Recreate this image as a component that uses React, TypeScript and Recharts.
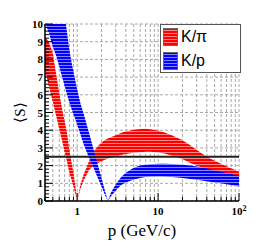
import { Area, CartesianGrid, ComposedChart, ReferenceLine, XAxis, YAxis } from "recharts";

// momentum grid (GeV/c)
const pValues = [
  0.4, 0.45, 0.5, 0.55, 0.6, 0.65, 0.7, 0.75, 0.8, 0.85, 0.9, 0.95, 1, 1.1, 1.2, 1.4, 1.6, 1.8, 2, 2.2,
  2.4, 2.6, 3, 3.5, 4, 5, 6, 7, 8, 10, 12, 15, 20, 25, 30, 40, 50, 60, 70, 80, 100,
];

// K/pi separation band
const redHigh = [
  9.3, 8.95, 8.35, 7.15, 6.1, 5.2, 4.5, 3.8, 2.9, 2.2, 1.55, 0.85, 0, 0.95, 1.5, 2.25, 2.8, 3.1, 3.3, 3.45,
  3.53, 3.6, 3.72, 3.85, 3.93, 4.03, 4.07, 4.08, 4.06, 3.97, 3.87, 3.7, 3.43, 3.15, 2.88, 2.5, 2.27, 2.1,
  1.97, 1.85, 1.65,
];
const redLow = [
  7.4, 6.4, 5.6, 4.8, 4.05, 3.4, 2.75, 2.2, 1.6, 1.2, 0.8, 0.4, 0, 0.7, 1.15, 1.75, 2.0, 2.15, 2.25, 2.33,
  2.4, 2.45, 2.52, 2.6, 2.65, 2.72, 2.76, 2.78, 2.78, 2.74, 2.68, 2.56, 2.37, 2.15, 2.0, 1.76, 1.62, 1.53,
  1.46, 1.4, 1.3,
];

// K/p separation band
const blueHigh = [
  20, 18, 16.3, 14.7, 13.2, 11.8, 10.5, 9.5, 8.55, 7.85, 7.3, 6.8, 6.3, 5.5, 4.95, 3.85, 2.9, 2.05, 1.3, 0.6,
  0, 0.45, 0.95, 1.35, 1.6, 1.88, 2.0, 2.05, 2.08, 2.1, 2.1, 2.09, 2.05, 2.0, 1.95, 1.85, 1.73, 1.65, 1.58,
  1.52, 1.42,
];
const blueLow = [
  10.1, 9.45, 8.7, 8.2, 7.6, 7.0, 6.5, 6.0, 5.57, 5.2, 4.9, 4.6, 4.3, 3.75, 3.2, 2.45, 1.85, 1.3, 0.8, 0.35,
  0, 0.25, 0.6, 0.9, 1.05, 1.22, 1.3, 1.35, 1.37, 1.38, 1.37, 1.35, 1.3, 1.25, 1.2, 1.12, 1.05, 1.0, 0.95,
  0.9, 0.82,
];

const threshold = 2.5;

const xTicks = [
  0.4, 0.5, 0.6, 0.7, 0.8, 0.9, 1, 2, 3, 4, 5, 6, 7, 8, 9, 10, 20, 30, 40, 50, 60, 70, 80, 90, 100,
];
const xMajor = [1, 10, 100];
const yMajor = [0, 1, 2, 3, 4, 5, 6, 7, 8, 9, 10];
const yTicks: number[] = [];
for (let i = 0; i <= 50; i++) yTicks.push(Math.round(i * 2) / 10);

const data = pValues.map((p, i) => ({
  p,
  red: [redLow[i], redHigh[i]],
  blue: [blueLow[i], blueHigh[i]],
}));

const SERIF = "'Liberation Serif', 'Times New Roman', serif";
const SANS = "'Liberation Sans', Arial, sans-serif";

function Hatch({ id, color, light }: { id: string; color: string; light: string }) {
  return (
    <pattern id={id} width="6" height="3" patternUnits="userSpaceOnUse">
      <rect width="6" height="3" fill={color} />
      <rect y="2" width="6" height="1" fill={light} />
    </pattern>
  );
}

function BottomTick({ x, y, payload }: any) {
  const v = payload.value;
  const major = xMajor.includes(v);
  return (
    <g>
      <line x1={x} x2={x} y1={y} y2={y - (major ? 8 : 4)} stroke="#000" />
      {major && (
        <text x={x} y={y + 14} textAnchor="middle" fontFamily={SERIF} fontWeight="bold" fontSize={11} fill="#000">
          {v === 100 ? (
            <>
              10
              <tspan fontSize={8} dy={-4}>
                2
              </tspan>
            </>
          ) : (
            v
          )}
        </text>
      )}
    </g>
  );
}

function TopTick({ x, y, payload }: any) {
  const major = xMajor.includes(payload.value);
  return <line x1={x} x2={x} y1={y} y2={y + (major ? 8 : 4)} stroke="#000" />;
}

function LeftTick({ x, y, payload }: any) {
  const v = payload.value;
  const major = yMajor.includes(v);
  return (
    <g>
      <line x1={x} x2={x + (major ? 8 : 4)} y1={y} y2={y} stroke="#000" />
      {major && (
        <text x={x - 2} y={y + 4} textAnchor="end" fontFamily={SERIF} fontWeight="bold" fontSize={11} fill="#000">
          {v}
        </text>
      )}
    </g>
  );
}

function RightTick({ x, y, payload }: any) {
  const major = yMajor.includes(payload.value);
  return <line x1={x} x2={x - (major ? 8 : 4)} y1={y} y2={y} stroke="#000" />;
}

function YLabel({ viewBox }: any) {
  const cx = 25;
  const cy = viewBox.y + viewBox.height / 2;
  return (
    <text
      x={cx}
      y={cy}
      transform={`rotate(-90 ${cx} ${cy})`}
      textAnchor="middle"
      fontFamily={SERIF}
      fontSize={15}
      fill="#000"
    >
      ⟨S⟩
    </text>
  );
}

function LegendBox() {
  const items = [
    { label: "K/π", id: "lgRed", color: "#ff0000", light: "#ff8585" },
    { label: "K/p", id: "lgBlue", color: "#0000ff", light: "#8585ff" },
  ];
  return (
    <div
      style={{
        position: "absolute",
        left: 160,
        top: 24,
        width: 79,
        height: 47,
        background: "#fff",
        border: "1px solid #555",
      }}
    >
      {items.map((it, i) => (
        <div key={it.id} style={{ position: "absolute", left: 2, top: 3 + i * 24, height: 18, display: "flex" }}>
          <svg width={15} height={18}>
            <defs>
              <Hatch id={it.id} color={it.color} light={it.light} />
            </defs>
            <rect x={0.5} y={0.5} width={14} height={17} fill={`url(#${it.id})`} stroke="#666" />
          </svg>
          <span style={{ fontFamily: SANS, fontSize: 16, lineHeight: "18px", marginLeft: 3, color: "#000" }}>
            {it.label}
          </span>
        </div>
      ))}
    </div>
  );
}

export default function App() {
  return (
    <div style={{ position: "absolute", left: 0, top: 0, width: 266, height: 242, background: "#fff" }}>
      <ComposedChart width={266} height={242} data={data} margin={{ top: 24, right: 27, left: 0, bottom: 0 }}>
        <defs>
          <Hatch id="hatchRed" color="#ff0000" light="#ff8585" />
          <Hatch id="hatchBlue" color="#0000ff" light="#8585ff" />
        </defs>
        <CartesianGrid
          stroke="#a8a8a8"
          strokeDasharray="3 2"
          horizontalValues={yMajor}
          verticalValues={xTicks}
        />
        <XAxis
          dataKey="p"
          type="number"
          scale="log"
          domain={[0.4, 100]}
          allowDataOverflow
          ticks={xTicks}
          interval={0}
          height={41}
          tickSize={0}
          tickMargin={0}
          tickLine={false}
          tick={<BottomTick />}
          axisLine={{ stroke: "#000", strokeWidth: 1.5 }}
          label={{
            value: "p (GeV/c)",
            position: "insideBottom",
            offset: 6,
            style: { fontFamily: SERIF, fontSize: 17, fill: "#000" },
          }}
        />
        <XAxis
          xAxisId="top"
          orientation="top"
          dataKey="p"
          type="number"
          scale="log"
          domain={[0.4, 100]}
          allowDataOverflow
          ticks={xTicks}
          interval={0}
          height={0}
          tickSize={0}
          tickMargin={0}
          tickLine={false}
          tick={<TopTick />}
          axisLine={{ stroke: "#000", strokeWidth: 1 }}
        />
        <YAxis
          type="number"
          domain={[0, 10]}
          allowDataOverflow
          ticks={yTicks}
          interval={0}
          width={45}
          tickSize={0}
          tickMargin={0}
          tickLine={false}
          tick={<LeftTick />}
          axisLine={{ stroke: "#000", strokeWidth: 1.5 }}
          label={<YLabel />}
        />
        <YAxis
          yAxisId="right"
          orientation="right"
          type="number"
          domain={[0, 10]}
          allowDataOverflow
          ticks={yTicks}
          interval={0}
          width={0}
          tickSize={0}
          tickMargin={0}
          tickLine={false}
          tick={<RightTick />}
          axisLine={{ stroke: "#000", strokeWidth: 1 }}
        />
        <Area
          dataKey="red"
          type="linear"
          stroke="none"
          fill="url(#hatchRed)"
          fillOpacity={1}
          dot={false}
          activeDot={false}
          isAnimationActive={false}
        />
        <Area
          dataKey="blue"
          type="linear"
          stroke="none"
          fill="url(#hatchBlue)"
          fillOpacity={1}
          dot={false}
          activeDot={false}
          isAnimationActive={false}
        />
        <ReferenceLine y={threshold} stroke="#222" strokeWidth={1.8} />
      </ComposedChart>
      <LegendBox />
    </div>
  );
}
